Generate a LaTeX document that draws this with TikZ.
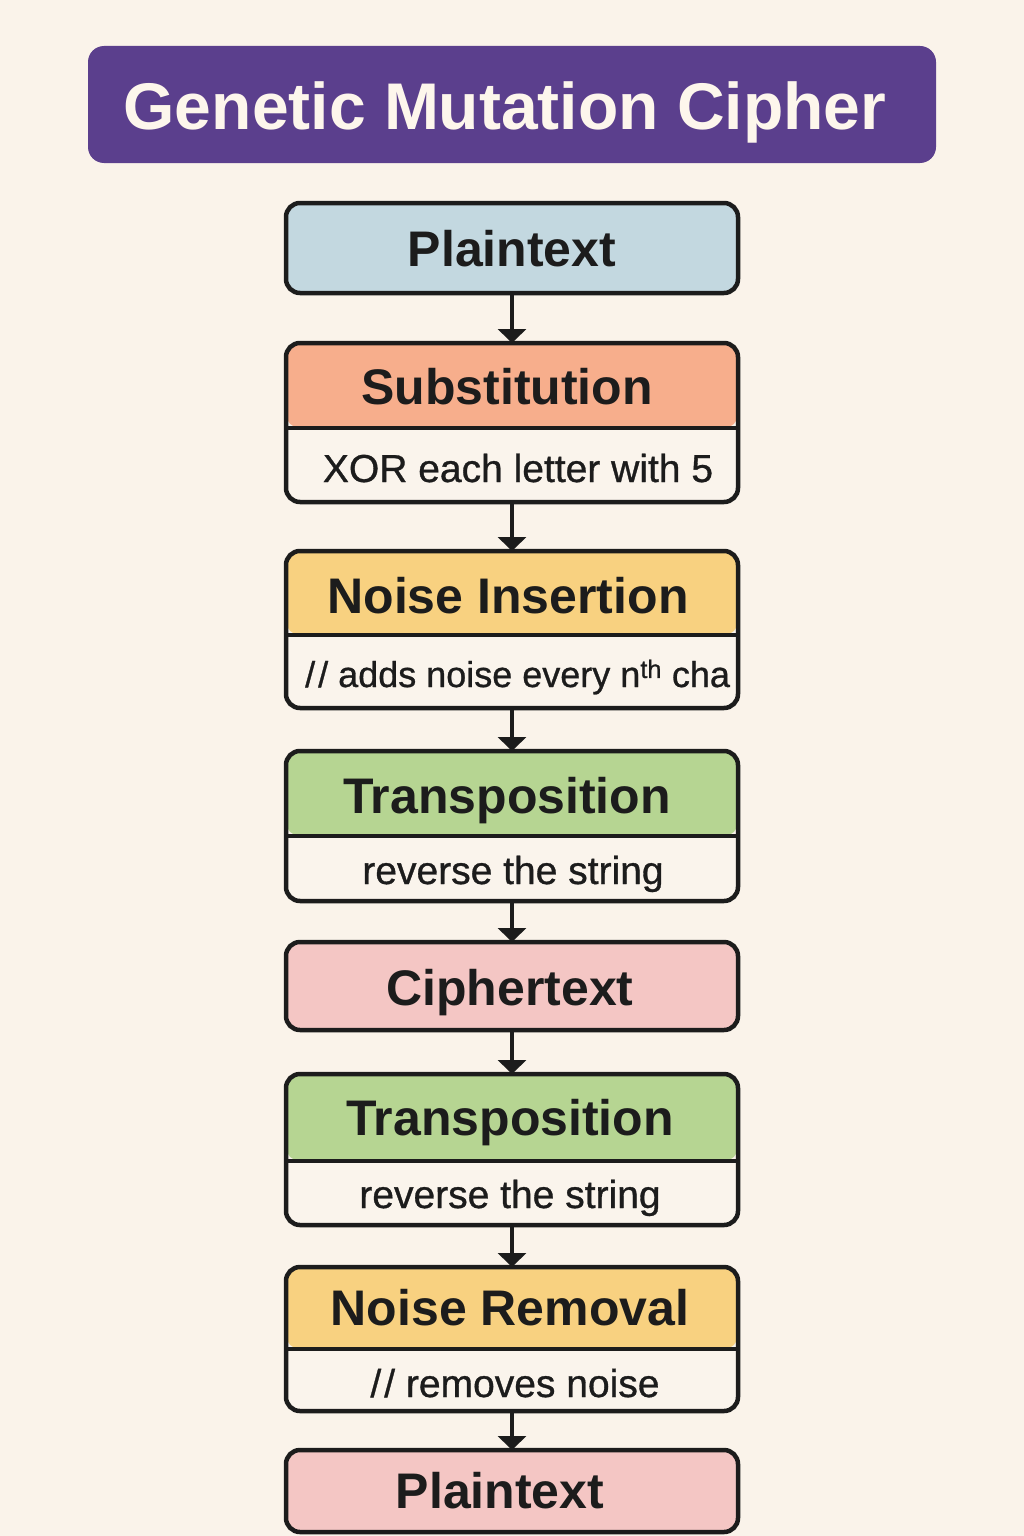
\documentclass[tikz,border=0pt]{standalone}
\usepackage{fontspec}
\setmainfont{Liberation Sans}
\newfontfamily\notefont[FakeBold=0.8]{Liberation Sans}
\usetikzlibrary{arrows.meta}

\definecolor{bg}{HTML}{FAF3EA}
\definecolor{titlepurple}{HTML}{5B3F8D}
\definecolor{titleink}{HTML}{FDF6EC}
\definecolor{ink}{HTML}{1C1C1C}
\definecolor{paper}{HTML}{FAF4EC}
\definecolor{plainblue}{HTML}{C3D8E0}
\definecolor{salmon}{HTML}{F7AE8C}
\definecolor{mustard}{HTML}{F8D180}
\definecolor{leaf}{HTML}{B6D592}
\definecolor{rose}{HTML}{F4C6C4}

% comment marker with the two slashes set slightly apart
\newcommand\cmark{/\kern3pt/}

\tikzset{
  stagebox/.style={draw=ink, line width=4.5pt, rounded corners=14pt,
    minimum width=452pt, inner sep=0pt, outer sep=0pt},
  % two-part box: coloured header of given height above a pale body
  splitbox/.style 2 args={fill=paper, path picture={
      \fill[#1] (path picture bounding box.north west) rectangle
        ([yshift=-#2pt]path picture bounding box.north east);
      \draw[ink, line width=4pt]
        ([yshift=-#2pt]path picture bounding box.north west) --
        ([yshift=-#2pt]path picture bounding box.north east);}},
  headtext/.style={anchor=base, inner sep=0pt, text=ink,
    font=\fontsize{50}{60}\selectfont\bfseries},
  notetext/.style={anchor=base, inner sep=0pt, text=ink,
    font=\fontsize{39}{47}\selectfont\notefont},
  conn/.style={draw=ink, line width=4pt,
    -{Triangle[width=28pt,length=14pt]}},
}

\begin{document}
\begin{tikzpicture}[x=1pt, y=-1pt]
  \useasboundingbox (0,0) rectangle (1024,1536);
  \fill[bg] (0,0) rectangle (1024,1536);

  % title banner
  \node[fill=titlepurple, rounded corners=16pt, minimum width=848pt,
        minimum height=117pt, inner sep=0pt] (title) at (512,104.5) {};
  \node[anchor=base, inner sep=0pt, text=titleink,
        font=\fontsize{66}{78}\selectfont\bfseries] (titletext) at (505,129)
        {Genetic Mutation Cipher};

  % encryption stages
  \node[stagebox, fill=plainblue, minimum height=90pt] (plainA) at (512,248) {};
  \node[headtext] (plainAt) at (512,266) {Plaintext};

  \node[stagebox, splitbox={salmon}{85}, minimum height=159pt] (subst) at (512,422.5) {};
  \node[headtext] (substt) at (507,404) {Substitution};
  \node[notetext] (substn) at (518,482) {XOR each letter with 5};

  \node[stagebox, splitbox={mustard}{84}, minimum height=157pt] (noiseins) at (512,629.5) {};
  \node[headtext] (noiseinst) at (508,613) {Noise Insertion};
  \node[notetext, anchor=base west, font=\fontsize{36}{44}\selectfont\notefont]
        (noiseinsn) at (305,687) {\cmark{} adds noise every n\textsuperscript{th} cha};

  \node[stagebox, splitbox={leaf}{85}, minimum height=150pt] (transA) at (512,826) {};
  \node[headtext] (transAt) at (507,813) {Transposition};
  \node[notetext] (transAn) at (513,884) {reverse the string};

  \node[stagebox, fill=rose, minimum height=88pt] (cipher) at (512,986) {};
  \node[headtext] (ciphert) at (510,1005) {Ciphertext};

  % decryption stages
  \node[stagebox, splitbox={leaf}{87}, minimum height=151pt] (transB) at (512,1149.5) {};
  \node[headtext] (transBt) at (510,1135) {Transposition};
  \node[notetext] (transBn) at (510,1208) {reverse the string};

  \node[stagebox, splitbox={mustard}{82}, minimum height=144pt] (noiserem) at (512,1339) {};
  \node[headtext] (noiseremt) at (510,1325) {Noise Removal};
  \node[notetext] (noiseremn) at (515,1397) {\cmark{} removes noise};

  \node[stagebox, fill=rose, minimum height=82pt] (plainB) at (512,1491) {};
  \node[headtext] (plainBt) at (500,1508) {Plaintext};

  % flow arrows
  \draw[conn] (plainA) -- (subst);
  \draw[conn] (subst) -- (noiseins);
  \draw[conn] (noiseins) -- (transA);
  \draw[conn] (transA) -- (cipher);
  \draw[conn] (cipher) -- (transB);
  \draw[conn] (transB) -- (noiserem);
  \draw[conn] (noiserem) -- (plainB);
\end{tikzpicture}
\end{document}
